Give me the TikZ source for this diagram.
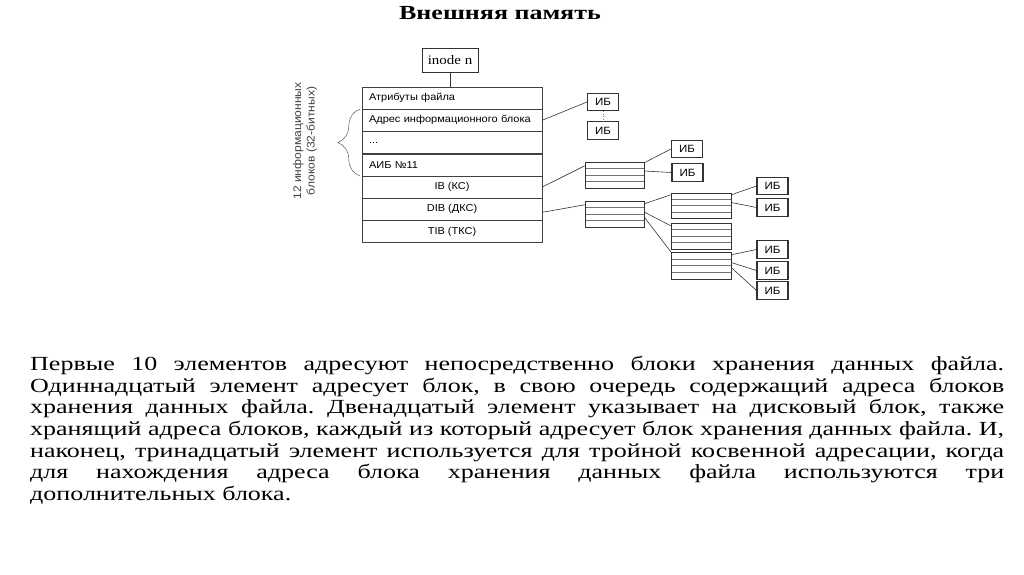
\documentclass[tikz,border=0pt]{standalone}
\usepackage{fontspec}
\setmainfont{Liberation Serif}[FakeStretch=1.3]
\setsansfont{Liberation Sans}[FakeStretch=1.1]
\newfontfamily\diagserif{Liberation Serif}[FakeStretch=1.15]
\usetikzlibrary{positioning,calc,decorations.pathreplacing}
\frenchspacing

\tikzset{
  row/.style={draw=black!75, minimum width=180pt, minimum height=21.86pt, inner xsep=7pt, inner ysep=0pt,
    font=\sffamily\fontsize{10}{11}\selectfont},
  lrow/.style={row, text width=166pt, align=left},
  ib/.style={draw=black!80, line width=1.1pt, minimum width=31pt, minimum height=17.5pt, inner sep=0pt,
    font=\sffamily\fontsize{10.5}{11}\selectfont},
  blk/.style={draw=black!80, minimum width=59pt, minimum height=26pt, inner sep=0pt,
    path picture={
      \foreach \k in {1,2,3}
        \draw[black!55] ($(path picture bounding box.north west)!\k/4!(path picture bounding box.south west)$)
          -- ($(path picture bounding box.north east)!\k/4!(path picture bounding box.south east)$);
    }},
  link/.style={draw=black!80, line width=0.6pt}
}

\begin{document}
\begin{tikzpicture}[x=1pt,y=-1pt]
  \useasboundingbox (0,0) rectangle (1024,574);

  \node[font=\bfseries\fontsize{20}{24}\selectfont] (title) at (500,13) {Внешняя память};

  % inode and its table
  \node[draw=black!80, minimum width=56pt, minimum height=24pt, inner sep=0pt,
        font=\diagserif\fontsize{13}{14}\selectfont] (inode) at (450,60) {inode n};
  \node[lrow] (attr) at (452,98) {Атрибуты файла};
  \node[lrow, below=0pt of attr] (adr) {Адрес информационного блока};
  \node[lrow, below=0pt of adr] (dots) {...};
  \node[lrow, below=0pt of dots] (aib) {АИБ №11};
  \node[row, below=0pt of aib] (ibrow) {IB (КС)};
  \node[row, below=0pt of ibrow] (dibrow) {DIB (ДКС)};
  \node[row, below=0pt of dibrow] (tibrow) {TIB (ТКС)};
  \draw[link] (inode.south) -- (inode.south |- attr.north);

  \draw[black!75, decorate, decoration={brace, amplitude=22pt}]
    ([xshift=-2pt]aib.south west) -- ([xshift=-2pt]adr.north west);
  \node[rotate=90, align=center, text=black!75, font=\sffamily\fontsize{11}{13.5}\selectfont] (note) at (305,141)
    {12 информационных\\блоков (32-битных)};

  % data blocks and index blocks
  \node[ib] (ib1) at (603,102) {ИБ};
  \node[ib] (ib2) at (603,130.5) {ИБ};
  \node[blk] (ind1) at (614.5,175) {};
  \node[ib] (ib3) at (687,149) {ИБ};
  \node[ib] (ib4) at (687.5,172.5) {ИБ};
  \node[blk] (dind) at (614.5,214) {};
  \node[blk, minimum width=60pt, minimum height=25pt] (blkA) at (701,205.5) {};
  \node[blk, minimum width=60pt] (blkB) at (701,236) {};
  \node[blk, minimum width=60pt, minimum height=27pt] (blkC) at (701,265.5) {};
  \node[ib] (ib5) at (772.5,186) {ИБ};
  \node[ib] (ib6) at (772.5,207.5) {ИБ};
  \node[ib] (ib7) at (772.5,249.5) {ИБ};
  \node[ib] (ib8) at (772.5,270.5) {ИБ};
  \node[ib] (ib9) at (772.5,290.5) {ИБ};

  \draw[link] (adr.east) -- (ib1.west);
  \draw[black!50, dotted] (ib1) -- (ib2);
  \draw[link] (ibrow.east) -- ([yshift=-4pt]ind1.north west);
  \draw[link] ([yshift=-1pt]ind1.north east) -- (ib3.west);
  \draw[link] ([yshift=4pt]ind1.east) -- (ib4.west);
  \draw[link] ([yshift=-3pt]dibrow.east) -- ([yshift=-4pt]dind.north west);
  \draw[link] ([yshift=-3pt]dind.north east) -- ([yshift=-2pt]blkA.north west);
  \draw[link] ([yshift=2pt]dind.east) -- ([yshift=-3pt]blkB.north west);
  \draw[link] ([yshift=-3pt]dind.east) -- (blkC.north west);
  \draw[link] ([yshift=-2pt]blkA.north east) -- (ib5.west);
  \draw[link] ([yshift=3pt]blkA.east) -- (ib6.west);
  \draw[link] ([yshift=-3pt]blkC.north east) -- (ib7.west);
  \draw[link] ([yshift=3pt]blkC.east) -- (ib8.west);
  \draw[link] ([yshift=-2pt]blkC.east) -- (ib9.west);

  \node[anchor=north west, inner sep=0pt, align=left, font=\fontsize{20}{21.67}\selectfont] (desc) at (30,356) {%
    \makebox[974pt][s]{Первые 10 элементов адресуют непосредственно блоки хранения данных файла.}\\
    \makebox[974pt][s]{Одиннадцатый элемент адресует блок, в свою очередь содержащий адреса блоков}\\
    \makebox[974pt][s]{хранения данных файла. Двенадцатый элемент указывает на дисковый блок, также}\\
    \makebox[974pt][s]{хранящий адреса блоков, каждый из который адресует блок хранения данных файла. И,}\\
    \makebox[974pt][s]{наконец, тринадцатый элемент используется для тройной косвенной адресации, когда}\\
    \makebox[974pt][s]{для нахождения адреса блока хранения данных файла используются три}\\
    дополнительных блока.};
\end{tikzpicture}
\end{document}
